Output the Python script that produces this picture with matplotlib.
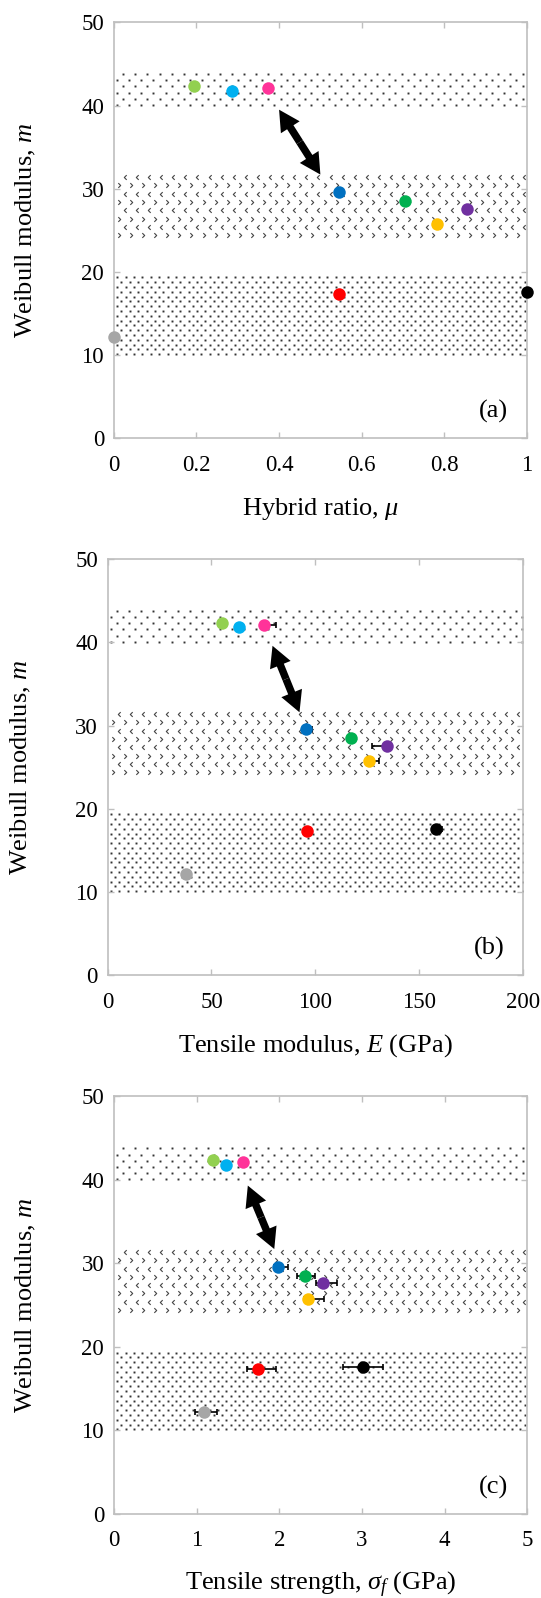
import numpy as np
import matplotlib
matplotlib.use('Agg')
from matplotlib import pyplot as plt
from matplotlib.patches import FancyArrowPatch
from matplotlib.ticker import FuncFormatter
import matplotlib.transforms as mtransforms

plt.rcParams['font.family'] = ['Liberation Serif', 'DejaVu Serif']
plt.rcParams['mathtext.fontset'] = 'custom'
plt.rcParams['mathtext.rm'] = 'Liberation Serif'
plt.rcParams['mathtext.it'] = 'Liberation Serif:italic'

# one entry per sample, same order everywhere
colors = ['#a6a6a6', '#92d050', '#00b0f0', '#ff3399', '#0070c0',
          '#ff0000', '#00b050', '#ffc000', '#7030a0', '#000000']
m = [12.2, 42.4, 41.8, 42.1, 29.6, 17.3, 28.5, 25.7, 27.6, 17.6]
mu = [0.0, 0.194, 0.286, 0.374, 0.546, 0.546, 0.706, 0.782, 0.856, 1.0]
E = [37.9, 55.0, 63.2, 75.3, 95.4, 95.9, 117.2, 126.0, 134.7, 158.4]
E_lo = [1.0, 1.0, 1.0, 1.0, 1.5, 1.0, 1.5, 1.5, 7.4, 1.5]
E_hi = [1.0, 1.0, 1.0, 5.6, 3.0, 1.0, 1.5, 4.8, 1.5, 2.5]
sig = [1.093, 1.20, 1.356, 1.565, 1.989, 1.745, 2.311, 2.344, 2.533, 3.016]
sig_lo = [0.11, 0.03, 0.03, 0.03, 0.05, 0.14, 0.093, 0.05, 0.09, 0.25]
sig_hi = [0.16, 0.03, 0.03, 0.03, 0.12, 0.22, 0.12, 0.20, 0.17, 0.235]

# shaded m ranges: sparse dots, chevrons, dense dots
band_top = (40.0, 44.3)
band_mid = (24.1, 31.5)
band_low = (10.0, 19.7)

fig = plt.figure(figsize=(5.41, 15.98), dpi=100)


def dot_band(ax, y0, y1, dx_px, dy_px):
    tr = mtransforms.blended_transform_factory(ax.transAxes, ax.transData)
    dx = dx_px / ax.bbox.width
    dy = dy_px / (ax.bbox.height / 50.0)
    for i, y in enumerate(np.arange(y0 + 0.1, y1, dy)):
        x = np.arange(0.008 + (i % 2) * dx / 2, 1.0, dx)
        ax.plot(x, np.full_like(x, y), ls='none', marker='s', ms=1.4,
                mfc='#333333', mew=0, transform=tr, zorder=1)


def chevron_band(ax, y0, y1, dx_px, dy_px):
    tr = mtransforms.blended_transform_factory(ax.transAxes, ax.transData)
    dx = dx_px / ax.bbox.width
    dy = dy_px / (ax.bbox.height / 50.0)
    right = [(-0.5, 1.0), (0.5, 0.0), (-0.5, -1.0)]
    left = [(0.5, 1.0), (-0.5, 0.0), (0.5, -1.0)]
    for i, y in enumerate(np.arange(y0 + 0.3, y1, dy)):
        x = np.arange(0.012 + (i % 2) * dx / 2, 1.0, dx)
        mk = right if i % 2 == 0 else left
        ax.plot(x, np.full_like(x, y), ls='none', marker=mk, ms=3.4,
                mfc='none', mec='#444444', mew=0.8, transform=tr, zorder=1)


def double_arrow(ax, p0, p1):
    # two filled arrows from the middle outwards
    mid = ((p0[0] + p1[0]) / 2, (p0[1] + p1[1]) / 2)
    style = 'simple,head_length=0.75,head_width=0.8,tail_width=0.27'
    for end in (p0, p1):
        ax.add_patch(FancyArrowPatch(mid, end, arrowstyle=style,
                                     mutation_scale=20, lw=0, color='k',
                                     shrinkA=0, shrinkB=0, zorder=5))


def panel(rect, x, xlim, xticks, xlabel, tag, arrow, xerr=None, ylab_x=-0.213):
    ax = fig.add_axes(rect)
    ax.set_xlim(xlim)
    ax.set_ylim(0, 50)
    ax.set_xticks(xticks)
    ax.set_yticks(np.arange(0, 51, 10))
    ax.xaxis.set_major_formatter(FuncFormatter(lambda v, p: '%g' % v))
    ax.tick_params(direction='in', top=True, right=True, length=4, width=1,
                   color='#bfbfbf', labelsize=16.5)
    ax.tick_params(axis='x', pad=12)
    ax.tick_params(axis='y', pad=7)
    for s in ax.spines.values():
        s.set_color('#bfbfbf')
        s.set_linewidth(1.2)

    dot_band(ax, band_top[0], band_top[1], 12.1, 6.1)
    chevron_band(ax, band_mid[0], band_mid[1], 12.1, 8.3)
    dot_band(ax, band_low[0], band_low[1], 8.4, 4.8)

    if xerr is not None:
        ax.errorbar(x, m, xerr=xerr, fmt='none', ecolor='k', elinewidth=1.2,
                    capsize=2.5, capthick=1.2, zorder=3)
    for xi, yi, c in zip(x, m, colors):
        ax.plot(xi, yi, ls='none', marker='o', ms=9, mfc=c, mec=c, mew=0,
                zorder=4, clip_on=False)

    double_arrow(ax, arrow[0], arrow[1])

    ax.set_xlabel(xlabel, fontsize=19, va='center')
    ax.set_ylabel('Weibull modulus, $m$', fontsize=19, va='center')
    ax.xaxis.set_label_coords(0.5, -0.170)
    ax.yaxis.set_label_coords(ylab_x, 0.5)
    ax.text(0.919, 0.064, tag, transform=ax.transAxes, fontsize=19,
            ha='center', va='center')
    return ax


panel([0.2105, 0.7258, 0.7634, 0.2602], mu, (0, 1), np.arange(0, 1.01, 0.2),
      'Hybrid ratio, $\\mu$', '(a)', [(0.40, 39.5), (0.50, 31.7)])
panel([0.1991, 0.3898, 0.7673, 0.2602], E, (0, 200), np.arange(0, 201, 50),
      'Tensile modulus, $E$ (GPa)', '(b)', [(79.4, 39.6), (92.4, 31.6)],
      xerr=[E_lo, E_hi], ylab_x=-0.2096)
panel([0.2105, 0.0527, 0.7641, 0.2613], sig, (0, 5), np.arange(0, 6, 1),
      'Tensile strength, $\\sigma_f$ (GPa)', '(c)', [(1.62, 39.3), (1.94, 31.7)],
      xerr=[sig_lo, sig_hi])

fig.savefig('out.png', dpi=100)
